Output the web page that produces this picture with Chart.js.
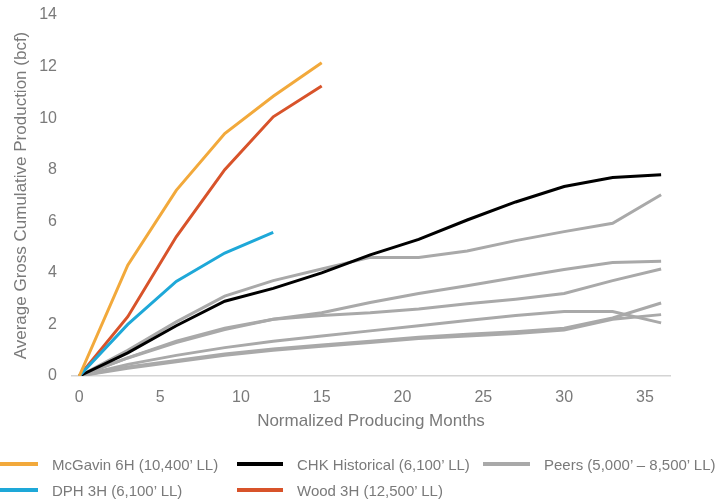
<!DOCTYPE html>
<html>
<head>
<meta charset="utf-8">
<script src="https://cdn.jsdelivr.net/npm/chart.js@4.4.1/dist/chart.umd.min.js"></script>
<style>
    html, body { margin: 0; padding: 0; background: #fff; }
    #wrap {
        position: relative; width: 718px; height: 502px; overflow: hidden;
        font-family: "Liberation Sans Narrow", "Arial Narrow", "Liberation Sans", sans-serif;
        color: #7a7a7a;
    }
    #chart { position: absolute; left: 0; top: 0; }
    .item {
        position: absolute; display: flex; align-items: center;
        height: 22px; font-size: 15px; white-space: nowrap;
    }
    .item .swatch { display: inline-block; height: 4px; margin-right: 14px; }
</style>
</head>
<body>
<div id="wrap">
    <canvas id="chart" width="718" height="502"></canvas>
    <div id="legend"></div>
</div>
<script>
    // 月（3か月刻み）
    const months = [0, 3, 6, 9, 12, 15, 18, 21, 24, 27, 30, 33, 36];
    const xTicks = [0, 5, 10, 15, 20, 25, 30, 35];

    const mcgavin = [0, 4.3, 7.2, 9.4, 10.85, 12.15];
    const wood = [0, 2.3, 5.4, 8.0, 10.05, 11.25];
    const dph = [0, 2.0, 3.67, 4.77, 5.57];
    const chk = [0, 0.9, 1.95, 2.9, 3.4, 4.0, 4.7, 5.3, 6.05, 6.75, 7.35, 7.7, 7.8];

    const peerA = [0, 1.0, 2.1, 3.1, 3.7, 4.15, 4.6, 4.6, 4.85, 5.25, 5.6, 5.92, 7.03];
    const peerB = [0, 0.7, 1.35, 1.85, 2.2, 2.45, 2.85, 3.2, 3.5, 3.82, 4.13, 4.4, 4.45];
    const peerC = [0, 0.7, 1.3, 1.8, 2.2, 2.35, 2.45, 2.6, 2.8, 2.98, 3.2, 3.7, 4.15];
    const peerD = [0, 0.45, 0.8, 1.1, 1.35, 1.55, 1.75, 1.95, 2.15, 2.35, 2.5, 2.5, 2.06];
    const peerE = [0, 0.35, 0.6, 0.85, 1.05, 1.2, 1.35, 1.5, 1.62, 1.72, 1.85, 2.25, 2.83];
    const peerF = [0, 0.3, 0.55, 0.8, 1.0, 1.15, 1.3, 1.45, 1.55, 1.65, 1.78, 2.2, 2.38];
    const peers = [peerA, peerB, peerC, peerD, peerE, peerF];

    const ORANGE = '#f2a93b';
    const RED = '#d8532a';
    const BLUE = '#1ea8d8';
    const BLACK = '#000000';
    const GRAY = '#a9a9a9';
    const TEXT = '#7a7a7a';
    const FONT = '"Liberation Sans Narrow", "Arial Narrow", "Liberation Sans", sans-serif';

    function toPoints(values) {
        return values.map(function (v, i) { return { x: months[i], y: v }; });
    }

    function line(label, values, color, order) {
        return {
            label: label,
            data: toPoints(values),
            borderColor: color,
            backgroundColor: color,
            borderWidth: 3,
            pointRadius: 0,
            tension: 0,
            fill: false,
            order: order
        };
    }

    const datasets = [
        line('McGavin 6H (10,400’ LL)', mcgavin, ORANGE, 0),
        line('CHK Historical (6,100’ LL)', chk, BLACK, 1),
        line('Peers (5,000’ – 8,500’ LL)', peerA, GRAY, 2),
        line('DPH 3H (6,100’ LL)', dph, BLUE, 0),
        line('Wood 3H (12,500’ LL)', wood, RED, 0)
    ];
    peers.slice(1).forEach(function (p) {
        datasets.push(line('', p, GRAY, 2));
    });

    new Chart(document.getElementById('chart').getContext('2d'), {
        type: 'line',
        data: { datasets: datasets },
        options: {
            responsive: false,
            animation: false,
            layout: { padding: { top: 15, right: 48, bottom: 66, left: 0 } },
            plugins: { legend: { display: false }, tooltip: { enabled: false } },
            scales: {
                x: {
                    type: 'linear',
                    min: -0.45,
                    max: 36.55,
                    afterBuildTicks: function (scale) {
                        scale.ticks = xTicks.map(function (v) { return { value: v }; });
                    },
                    afterFit: function (scale) { scale.height = 60; },
                    grid: { display: false, drawTicks: false },
                    border: { display: true, color: '#d4d4d4', width: 1.5 },
                    ticks: { padding: 12, color: TEXT, font: { family: FONT, size: 16 } },
                    title: {
                        display: true,
                        text: 'Normalized Producing Months',
                        color: TEXT,
                        font: { family: FONT, size: 17 },
                        padding: { top: 4, bottom: 4 }
                    }
                },
                y: {
                    min: 0,
                    max: 14,
                    afterFit: function (scale) {
                        scale.width = 72;
                        scale.paddingTop = 0;
                        scale.paddingBottom = 0;
                    },
                    grid: { display: false, drawTicks: false },
                    border: { display: false },
                    ticks: { stepSize: 2, padding: 15, color: TEXT, font: { family: FONT, size: 16 } },
                    title: {
                        display: true,
                        text: 'Average Gross Cumulative Production (bcf)',
                        color: TEXT,
                        font: { family: FONT, size: 17 },
                        padding: { top: 11, bottom: 4 }
                    }
                }
            }
        }
    });

    // 凡例（3列×2行）
    const legendPos = [
        { ds: 0, left: 0, top: 453, w: 38 },
        { ds: 1, left: 237, top: 453, w: 46 },
        { ds: 2, left: 483, top: 453, w: 47 },
        { ds: 3, left: 0, top: 479, w: 38 },
        { ds: 4, left: 237, top: 479, w: 46 }
    ];
    const legendEl = document.getElementById('legend');
    legendPos.forEach(function (p) {
        const ds = datasets[p.ds];
        const item = document.createElement('div');
        item.className = 'item';
        item.style.left = p.left + 'px';
        item.style.top = p.top + 'px';
        const sw = document.createElement('span');
        sw.className = 'swatch';
        sw.style.width = p.w + 'px';
        sw.style.background = ds.borderColor;
        const tx = document.createElement('span');
        tx.textContent = ds.label;
        item.appendChild(sw);
        item.appendChild(tx);
        legendEl.appendChild(item);
    });
</script>
</body>
</html>
